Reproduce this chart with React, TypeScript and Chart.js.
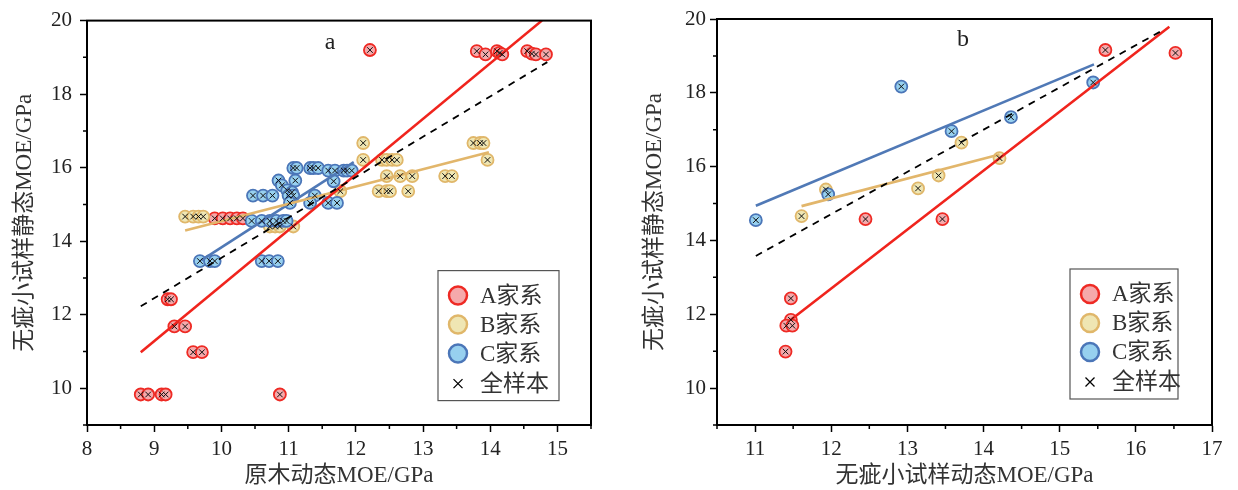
import React, { useEffect, useRef } from 'react';
import { Chart, registerables } from 'chart.js';
Chart.register(...registerables);

const FONT = '"Liberation Serif", "Noto Sans CJK SC", serif';

// ---------- Panel a : 原木动态MOE vs 无疵小试样静态MOE ----------
const aAx = [12.21, 13.8, 13.93, 14.1, 14.14, 14.18, 14.55, 14.62, 14.68, 14.83, 9.9, 10.02, 10.13, 10.23, 10.32, 9.2, 9.25, 9.3, 9.46, 9.58, 9.71, 8.8, 8.91, 9.11, 9.17, 10.87];
const aAy = [19.2, 19.17, 19.08, 19.17, 19.12, 19.08, 19.17, 19.1, 19.08, 19.08, 14.62, 14.62, 14.62, 14.62, 14.62, 12.42, 12.42, 11.68, 11.68, 10.98, 10.98, 9.83, 9.83, 9.83, 9.83, 9.83];
const aBx = [9.46, 9.58, 9.66, 9.73, 10.72, 10.8, 10.87, 11.07, 11.77, 12.11, 12.11, 12.39, 12.46, 12.54, 12.61, 12.46, 12.66, 12.84, 13.33, 13.43, 12.34, 12.46, 12.51, 12.78, 13.75, 13.85, 13.9, 13.96];
const aBy = [14.67, 14.67, 14.67, 14.67, 14.4, 14.4, 14.4, 14.4, 15.36, 16.67, 16.21, 16.21, 16.21, 16.21, 16.21, 15.77, 15.77, 15.77, 15.77, 15.77, 15.36, 15.36, 15.36, 15.36, 16.67, 16.67, 16.67, 16.21];
const aCx = [11.07, 11.12, 11.32, 11.37, 11.44, 11.59, 11.69, 11.82, 11.87, 11.94, 10.85, 10.9, 11.1, 11.67, 10.98, 11.05, 10.47, 10.62, 10.76, 11.0, 11.07, 11.39, 11.02, 11.32, 11.59, 11.72, 10.45, 10.6, 10.72, 10.82, 10.92, 10.97, 9.68, 9.83, 9.9, 10.6, 10.71, 10.84];
const aCy = [15.99, 15.99, 15.99, 15.99, 15.99, 15.92, 15.92, 15.92, 15.92, 15.92, 15.65, 15.52, 15.65, 15.63, 15.38, 15.33, 15.24, 15.24, 15.24, 15.24, 15.24, 15.24, 15.04, 15.04, 15.04, 15.04, 14.55, 14.55, 14.55, 14.55, 14.55, 14.55, 13.46, 13.46, 13.46, 13.46, 13.46, 13.46];
const aFitAx = [8.8, 14.77];
const aFitAy = [10.98, 20.0];
const aFitBx = [9.46, 13.98];
const aFitBy = [14.29, 16.42];
const aFitCx = [9.7, 11.97];
const aFitCy = [13.48, 16.15];
const aFitAllX = [8.8, 14.85];
const aFitAllY = [12.23, 18.87];

// ---------- Panel b : 无疵小试样动态MOE vs 静态MOE ----------
const bAx = [15.6, 16.52, 12.45, 13.46, 11.47, 11.47, 11.41, 11.49, 11.4];
const bAy = [19.16, 19.08, 14.58, 14.58, 12.43, 11.85, 11.69, 11.69, 10.99];
const bBx = [11.61, 11.93, 13.14, 13.41, 13.71, 14.21];
const bBy = [14.66, 15.38, 15.41, 15.76, 16.65, 16.23];
const bCx = [11.01, 11.96, 12.92, 13.58, 14.36, 15.44];
const bCy = [14.55, 15.25, 18.17, 16.96, 17.34, 18.28];
const bFitAx = [11.47, 16.44];
const bFitAy = [11.85, 19.79];
const bFitBx = [11.61, 14.21];
const bFitBy = [14.93, 16.33];
const bFitCx = [11.01, 15.45];
const bFitCy = [14.94, 18.77];
const bFitAllX = [11.01, 16.34];
const bFitAllY = [13.58, 19.68];

const groupLabels = ['A家系', 'B家系', 'C家系'];
const allLabel = '全样本';
const xTickStep = 1;
const yTickStep = 2;

const STYLE = [
  { border: '#ee2a24', fill: '#f5a9ab', line: '#f0241d' },
  { border: '#e0b76a', fill: '#efe6b3', line: '#e2b66b' },
  { border: '#4b76b8', fill: '#97d0ef', line: '#5079b6' },
];

const pts = (xs: number[], ys: number[]) => xs.map((x, i) => ({ x, y: ys[i] }));

const framePlugin = {
  id: 'frame',
  afterDraw(chart: any, _a: any, o: any) {
    const { ctx, chartArea: ca, scales } = chart;
    ctx.save();
    ctx.strokeStyle = '#000';
    ctx.lineWidth = 2;
    ctx.strokeRect(ca.left, ca.top, ca.right - ca.left, ca.bottom - ca.top);
    // minor ticks through the scales
    ctx.lineWidth = 1.5;
    ctx.beginPath();
    const xs = scales.x, ys = scales.y;
    for (let v = o.xMinorStart; v <= xs.max + 1e-9; v += o.xMinorStep) {
      const p = xs.getPixelForValue(v);
      ctx.moveTo(p, ca.bottom);
      ctx.lineTo(p, ca.bottom + 4);
    }
    for (let v = o.yMinorStart; v <= ys.max + 1e-9; v += o.yMinorStep) {
      const p = ys.getPixelForValue(v);
      ctx.moveTo(ca.left, p);
      ctx.lineTo(ca.left - 4, p);
    }
    ctx.stroke();
    // panel letter
    ctx.fillStyle = '#222';
    ctx.font = `24px ${FONT}`;
    ctx.textAlign = 'center';
    ctx.textBaseline = 'middle';
    ctx.fillText(o.letter, ca.left + o.letterX, ca.top + o.letterY);
    // legend
    const lb = o.legend;
    const bx = ca.left + lb.x, by = ca.top + lb.y;
    ctx.strokeStyle = '#555';
    ctx.lineWidth = 1.2;
    ctx.strokeRect(bx, by, lb.w, lb.h);
    const items = chart.data.datasets.filter((d: any) => d.inLegend);
    items.forEach((d: any, i: number) => {
      const cy = by + lb.rows[i];
      const cx = bx + 20;
      if (d.pointStyle === 'circle') {
        ctx.beginPath();
        ctx.arc(cx, cy, 9, 0, Math.PI * 2);
        ctx.fillStyle = d.backgroundColor;
        ctx.fill();
        ctx.lineWidth = 2.5;
        ctx.strokeStyle = d.borderColor;
        ctx.stroke();
      } else {
        ctx.beginPath();
        ctx.lineWidth = 1.3;
        ctx.strokeStyle = '#000';
        ctx.moveTo(cx - 4.5, cy - 4.5);
        ctx.lineTo(cx + 4.5, cy + 4.5);
        ctx.moveTo(cx + 4.5, cy - 4.5);
        ctx.lineTo(cx - 4.5, cy + 4.5);
        ctx.stroke();
      }
      ctx.fillStyle = '#333';
      ctx.font = `23px ${FONT}`;
      ctx.textAlign = 'left';
      ctx.textBaseline = 'middle';
      ctx.fillText(d.label, bx + 42, cy + 1);
    });
    ctx.restore();
  },
};

type PanelProps = {
  width: number;
  xMin: number;
  xMax: number;
  yAxisWidth: number;
  topPad: number;
  rightPad: number;
  xTitle: string;
  yTitle: string;
  yTitlePad: number;
  yTickPad: number;
  letter: string;
  letterX: number;
  letterY: number;
  legend: any;
  groups: { xs: number[]; ys: number[]; fx: number[]; fy: number[] }[];
  allFx: number[];
  allFy: number[];
};

function Panel(p: PanelProps) {
  const ref = useRef<HTMLCanvasElement>(null);
  useEffect(() => {
    if (!ref.current) return;
    const datasets: any[] = [];
    p.groups.forEach((g, i) => {
      datasets.push({
        label: groupLabels[i],
        inLegend: true,
        data: pts(g.xs, g.ys),
        pointStyle: 'circle',
        pointRadius: 6,
        pointHoverRadius: 6,
        borderWidth: 1.8,
        borderColor: STYLE[i].border,
        backgroundColor: STYLE[i].fill,
        order: 5 - i,
      });
    });
    p.groups.forEach((g, i) => {
      datasets.push({
        label: groupLabels[i] + '拟合',
        data: pts(g.fx, g.fy),
        showLine: true,
        pointRadius: 0,
        borderColor: STYLE[i].line,
        backgroundColor: STYLE[i].line,
        borderWidth: 2.6,
        order: 2,
      });
    });
    datasets.push({
      label: allLabel + '拟合',
      data: pts(p.allFx, p.allFy),
      showLine: true,
      pointRadius: 0,
      borderColor: '#000',
      borderWidth: 1.8,
      borderDash: [7, 6],
      order: 1,
    });
    const allX = p.groups.flatMap((g) => g.xs);
    const allY = p.groups.flatMap((g) => g.ys);
    datasets.push({
      label: allLabel,
      inLegend: true,
      data: pts(allX, allY),
      pointStyle: 'crossRot',
      pointRadius: 4,
      pointHoverRadius: 4,
      borderWidth: 1,
      borderColor: '#111',
      backgroundColor: '#111',
      order: 0,
    });
    const tickFont = { family: FONT, size: 21 };
    const chart = new Chart(ref.current, {
      type: 'scatter',
      data: { datasets },
      plugins: [framePlugin],
      options: {
        responsive: false,
        animation: false,
        events: [],
        layout: { padding: { top: p.topPad, right: p.rightPad, left: 0, bottom: 0 } },
        plugins: {
          legend: { display: false },
          tooltip: { enabled: false },
          frame: {
            xMinorStart: p.xMin + 0.5 - (Math.floor(p.xMin) === p.xMin ? 0 : 0.5) + (Math.floor(p.xMin) === p.xMin ? 0 : 0),
            xMinorStep: xTickStep,
            yMinorStart: 9,
            yMinorStep: yTickStep,
            letter: p.letter,
            letterX: p.letterX,
            letterY: p.letterY,
            legend: p.legend,
          },
        } as any,
        scales: {
          x: {
            type: 'linear',
            min: p.xMin,
            max: p.xMax,
            ticks: { stepSize: xTickStep, includeBounds: false, autoSkip: false, maxRotation: 0, font: tickFont, color: '#222', padding: 5 },
            grid: { drawOnChartArea: false, drawTicks: true, tickLength: 7, tickWidth: 1.5, tickColor: '#000' },
            border: { display: true, color: '#000', width: 2 },
            title: { display: true, text: p.xTitle, font: { family: FONT, size: 23 }, color: '#333', padding: { top: 0, bottom: 0 } },
            afterFit: (s: any) => { s.height = 65; },
          },
          y: {
            type: 'linear',
            min: 9,
            max: 20,
            ticks: { stepSize: yTickStep, includeBounds: false, autoSkip: false, font: tickFont, color: '#222', padding: p.yTickPad },
            grid: { drawOnChartArea: false, drawTicks: true, tickLength: 7, tickWidth: 1.5, tickColor: '#000' },
            border: { display: true, color: '#000', width: 2 },
            title: { display: true, text: p.yTitle, font: { family: FONT, size: 23 }, color: '#333', padding: { top: p.yTitlePad, bottom: 0 } },
            afterFit: (s: any) => { s.width = p.yAxisWidth; },
          },
        },
      } as any,
    });
    return () => chart.destroy();
  }, []);
  return <canvas ref={ref} width={p.width} height={490} style={{ display: 'block' }} />;
}

export default function App() {
  const rows = [25, 54, 83, 113];
  return (
    <div style={{ position: 'absolute', left: 0, top: 0, width: 1238, height: 490, background: '#fff', display: 'flex' }}>
      <Panel
        width={620}
        xMin={8}
        xMax={15.5}
        yAxisWidth={87}
        topPad={20}
        rightPad={29}
        xTitle="原木动态MOE/GPa"
        yTitle="无疵小试样静态MOE/GPa"
        yTitlePad={11}
        yTickPad={8}
        letter="a"
        letterX={243}
        letterY={22}
        legend={{ x: 351, y: 250, w: 121, h: 130, rows }}
        groups={[
          { xs: aAx, ys: aAy, fx: aFitAx, fy: aFitAy },
          { xs: aBx, ys: aBy, fx: aFitBx, fy: aFitBy },
          { xs: aCx, ys: aCy, fx: aFitCx, fy: aFitCy },
        ]}
        allFx={aFitAllX}
        allFy={aFitAllY}
      />
      <Panel
        width={618}
        xMin={10.5}
        xMax={17}
        yAxisWidth={97}
        topPad={19}
        rightPad={26}
        xTitle="无疵小试样动态MOE/GPa"
        yTitle="无疵小试样静态MOE/GPa"
        yTitlePad={21}
        yTickPad={4}
        letter="b"
        letterX={246}
        letterY={21}
        legend={{ x: 353, y: 250, w: 108, h: 130, rows }}
        groups={[
          { xs: bAx, ys: bAy, fx: bFitAx, fy: bFitAy },
          { xs: bBx, ys: bBy, fx: bFitBx, fy: bFitBy },
          { xs: bCx, ys: bCy, fx: bFitCx, fy: bFitCy },
        ]}
        allFx={bFitAllX}
        allFy={bFitAllY}
      />
    </div>
  );
}
